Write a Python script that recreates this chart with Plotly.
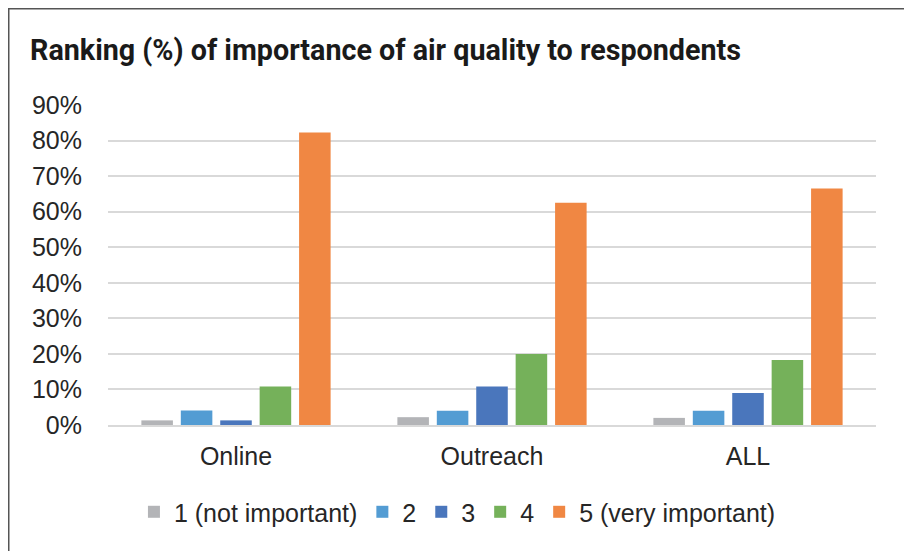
import plotly.graph_objects as go

# Data
groups = ["Online", "Outreach", "ALL"]
rank1 = [0.013, 0.022, 0.020]
rank2 = [0.041, 0.040, 0.040]
rank3 = [0.013, 0.108, 0.090]
rank4 = [0.108, 0.200, 0.183]
rank5 = [0.823, 0.625, 0.665]

series_names = ["1 (not important)", "2", "3", "4", "5 (very important)"]
series_vals = [rank1, rank2, rank3, rank4, rank5]
colors = ["#B3B4B7", "#539CD3", "#4A76BC", "#75B15A", "#F08743"]

fig = go.Figure()
for name, vals, c in zip(series_names, series_vals, colors):
    fig.add_trace(go.Bar(x=groups, y=vals, name=name,
                         marker=dict(color=c, line=dict(width=0))))

# page body has an 8px margin, so the figure is 904x543
W, H = 904, 543
fig.update_layout(
    width=W, height=H,
    margin=dict(l=100, r=36, t=97, b=126, autoexpand=False),
    paper_bgcolor="white", plot_bgcolor="white",
    barmode="group", bargap=0.23, bargroupgap=0.2,
    font=dict(family="Liberation Sans, Arial", size=25, color="#262626"),
    title=dict(text="<b>Ranking (%) of importance of air quality to respondents</b>",
               font=dict(family="Roboto", size=28.7, color="#1a1a1a"),
               x=22/W, xanchor="left", xref="container",
               y=1-42/H, yanchor="middle", yref="container"),
    legend=dict(orientation="h", x=0.455, xanchor="center",
                y=-0.272, yanchor="middle", font=dict(size=25),
                itemwidth=30, tracegroupgap=0),
    showlegend=True,
)
fig.update_yaxes(range=[0, 0.9], dtick=0.1, tickformat=".0%",
                 gridcolor="#D9D9D9", gridwidth=1.5, zeroline=False,
                 showline=False, ticks="", ticklabelstandoff=25)
fig.update_xaxes(showline=True, linecolor="#D9D9D9", linewidth=2,
                 ticks="", ticklabelstandoff=8)

# outer chart border (left and top edges visible)
fig.add_shape(type="rect", xref="paper", yref="paper",
              x0=(0.75-100)/768, x1=(920-100)/768,
              y0=(417-600)/320, y1=(417-0.75)/320,
              line=dict(color="#555555", width=1.5), fillcolor="rgba(0,0,0,0)",
              layer="below")

fig.write_html("out.html")
